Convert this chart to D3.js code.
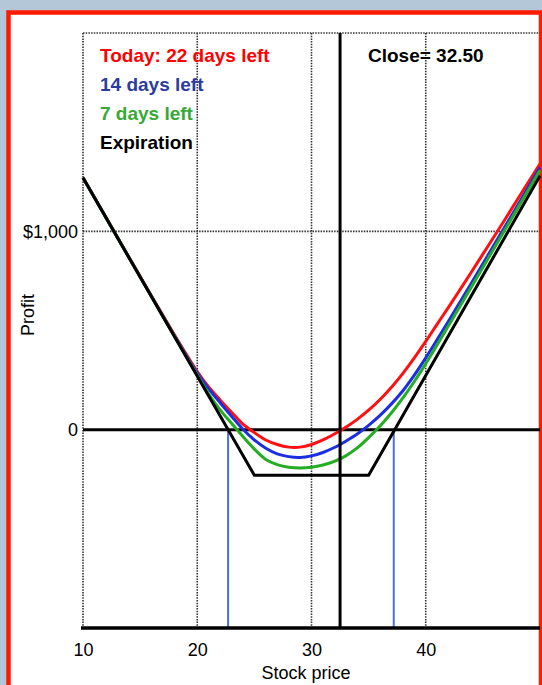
<!DOCTYPE html>
<html>
<head>
<meta charset="utf-8">
<script src="https://cdn.jsdelivr.net/npm/d3@7"></script>
<style>
  body { margin: 0; background: #b3c7d9; }
  svg { display: block; font-family: "Liberation Sans", Arial, sans-serif; }
</style>
</head>
<body>
<svg width="542" height="685"></svg>
<script>
var prices = [10, 12, 14, 16, 18, 19, 20, 21, 22, 23, 24, 25, 26, 27, 28, 29, 30, 31, 32, 33,
              34, 35, 36, 37, 38, 39, 40, 41, 42, 43, 44, 45, 46, 47, 48, 49, 50];
var today22 = [1272, 1072, 872, 674, 479, 384, 293, 215, 150, 88, 28, -15, -52, -75, -88, -88, -75, -52, -22, 12,
               52, 98, 152, 214, 284, 362, 445, 532, 618, 706, 795, 885, 975, 1066, 1158, 1250, 1340];
var days14 = [1270, 1070, 870, 671, 474, 378, 285, 206, 136, 68, 2, -52, -94, -122, -136, -140, -132, -115, -90, -58,
              -22, 22, 72, 130, 196, 275, 362, 454, 548, 644, 740, 836, 933, 1030, 1127, 1225, 1322];
var days7 = [1270, 1070, 870, 670, 471, 372, 275, 180, 100, 32, -35, -98, -150, -176, -189, -193, -189, -178, -160, -132,
             -92, -40, 18, 85, 160, 243, 333, 428, 525, 622, 720, 818, 916, 1014, 1112, 1210, 1308];
var expPrices = [10, 25, 35, 50];
var expProfit = [1270, -230, -230, 1280];
var breakevens = [22.7, 37.2];
var closePrice = 32.5;
var xTicks = [10, 20, 30, 40];
var yTicks = [0, 1000];
var gridX = [20, 30, 40];
var gridY = [1000, 2000];
var legendLabels = ["Today: 22 days left", "14 days left", "7 days left", "Expiration"];

var svg = d3.select('svg');

// red frame
svg.append('rect')
    .attr('x', 8.5).attr('y', 12.5)
    .attr('width', 532.5).attr('height', 680)
    .attr('fill', 'white')
    .attr('stroke', '#ff1a00')
    .attr('stroke-width', 4.5);

var x = d3.scaleLinear().domain([10, 50]).range([83, 540]);
var y = d3.scaleLinear().domain([-1000, 2000]).range([628, 33]);

// dotted grid
svg.selectAll('.gx')
  .data([10].concat(gridX))
  .enter()
  .append('line')
    .attr('x1', d => x(d)).attr('x2', d => x(d))
    .attr('y1', y(2000)).attr('y2', y(-1000))
    .attr('stroke', '#333')
    .attr('stroke-width', 1.6)
    .attr('stroke-dasharray', '1.5,1.2');
svg.selectAll('.gy')
  .data(gridY)
  .enter()
  .append('line')
    .attr('x1', x(10)).attr('x2', x(50))
    .attr('y1', d => y(d)).attr('y2', d => y(d))
    .attr('stroke', '#333')
    .attr('stroke-width', 1.6)
    .attr('stroke-dasharray', '1.5,1.2');

// zero line
svg.append('line')
    .attr('x1', x(10)).attr('x2', x(50))
    .attr('y1', y(0)).attr('y2', y(0))
    .attr('stroke', 'black').attr('stroke-width', 3);

// breakeven lines
svg.selectAll('.be')
  .data(breakevens)
  .enter()
  .append('line')
    .attr('x1', d => x(d)).attr('x2', d => x(d))
    .attr('y1', y(0)).attr('y2', y(-1000))
    .attr('stroke', '#4a6fe3').attr('stroke-width', 2);

//the curves, drawn from the series arrays
var series = [
  {vals: today22, color: '#ff1010'},
  {vals: days14, color: '#1c2fe0'},
  {vals: days7, color: '#23ad23'}
];
var line = d3.line()
    .x(d => x(d[0]))
    .y(d => y(d[1]))
    .curve(d3.curveCatmullRom);
svg.selectAll('.curve')
  .data(series)
  .enter()
  .append('path')
    .attr('d', s => line(prices.map((p, i) => [p, s.vals[i]])))
    .attr('fill', 'none')
    .attr('stroke', s => s.color)
    .attr('stroke-width', 3);

svg.append('path')
    .attr('d', d3.line().x(d => x(d[0])).y(d => y(d[1]))(expPrices.map((p, i) => [p, expProfit[i]])))
    .attr('fill', 'none')
    .attr('stroke', 'black')
    .attr('stroke-width', 3);

// close price line
svg.append('line')
    .attr('x1', x(closePrice)).attr('x2', x(closePrice))
    .attr('y1', y(2000)).attr('y2', y(-1000))
    .attr('stroke', 'black').attr('stroke-width', 3);

// bottom axis
svg.append('line')
    .attr('x1', x(10) - 2).attr('x2', x(50))
    .attr('y1', y(-1000)).attr('y2', y(-1000))
    .attr('stroke', 'black').attr('stroke-width', 3.5);

var xAxis = svg.append('g')
    .attr('transform', 'translate(0,' + y(-1000) + ')')
    .call(d3.axisBottom(x).tickValues(xTicks).tickSize(0).tickPadding(15).tickFormat(d3.format('d')));
xAxis.select('.domain').remove();
xAxis.selectAll('text').attr('font-size', 18).attr('fill', 'black')
    .attr('font-family', '"Liberation Sans", Arial, sans-serif');

var yAxis = svg.append('g')
    .attr('transform', 'translate(' + x(10) + ',0)')
    .call(d3.axisLeft(y).tickValues(yTicks).tickSize(0).tickPadding(5)
      .tickFormat(d => d === 0 ? '0' : '$' + d3.format(',')(d)));
yAxis.select('.domain').remove();
yAxis.selectAll('text').attr('font-size', 18).attr('fill', 'black')
    .attr('font-family', '"Liberation Sans", Arial, sans-serif');

svg.append('text')
    .attr('x', 306).attr('y', 679)
    .attr('text-anchor', 'middle')
    .attr('font-size', 18)
    .text('Stock price');

svg.append('text')
    .attr('transform', 'translate(34,315) rotate(-90)')
    .attr('text-anchor', 'middle')
    .attr('font-size', 18)
    .text('Profit');

// legend
var legendColors = ['#ff0000', '#2b3c9e', '#38a935', '#000000'];
svg.selectAll('.leg')
  .data(legendLabels)
  .enter()
  .append('text')
    .attr('x', 100)
    .attr('y', (d, i) => 62 + i * 29)
    .attr('font-size', 19)
    .attr('font-weight', 'bold')
    .attr('fill', (d, i) => legendColors[i])
    .text(d => d);

svg.append('text')
    .attr('x', 368).attr('y', 61.5)
    .attr('font-size', 19)
    .attr('font-weight', 'bold')
    .text('Close= ' + d3.format('.2f')(closePrice));
</script>
</body>
</html>
